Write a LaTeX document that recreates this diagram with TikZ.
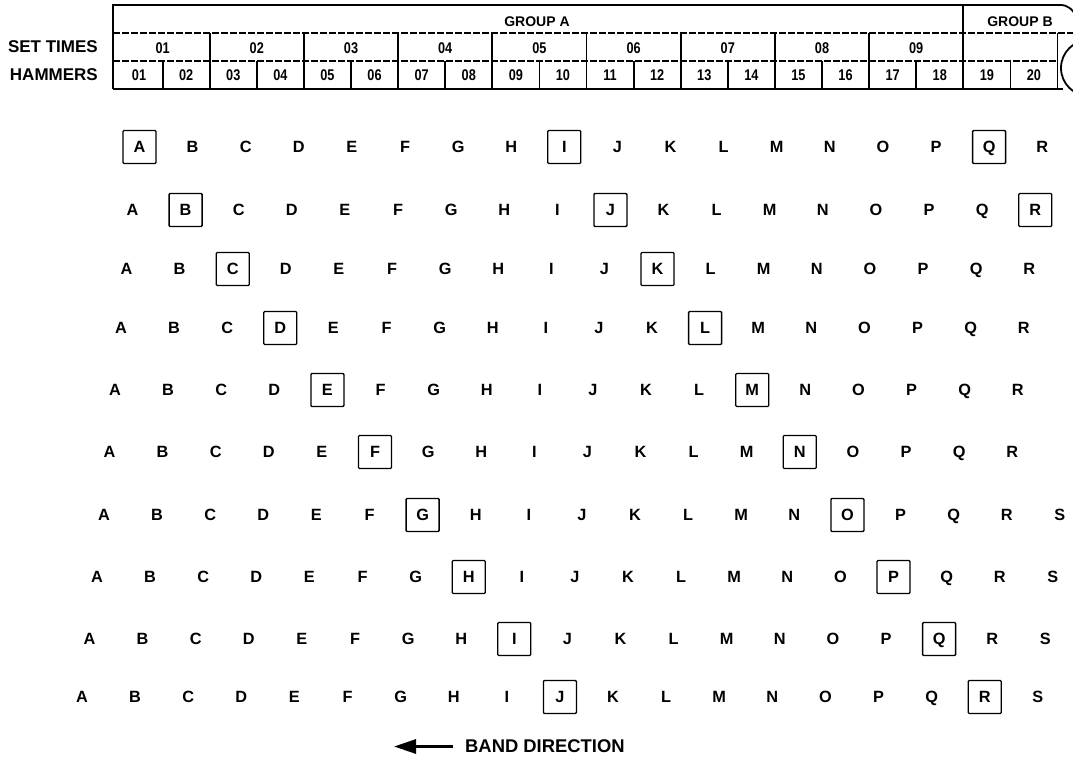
\documentclass[tikz,border=0pt]{standalone}
\usepackage{fontspec}
\setmainfont{Liberation Sans}
\newfontfamily\condfont[FakeStretch=0.82]{Liberation Sans}
\usetikzlibrary{arrows.meta}
\begin{document}
\begin{tikzpicture}[x=1pt,y=-1pt,
  lbl/.style={font=\bfseries\fontsize{17}{17}\selectfont, anchor=east, inner sep=0pt},
  grp/.style={font=\bfseries\fontsize{14}{14}\selectfont, inner sep=0pt},
  num/.style={font=\condfont\bfseries\fontsize{15.5}{15.5}\selectfont, inner sep=0pt},
  ltr/.style={font=\bfseries\fontsize{16.3}{16.3}\selectfont, text height=11.7pt, text depth=0pt, minimum width=33pt, minimum height=33pt, inner sep=0pt},
  hit/.style={ltr, draw, line width=1.3pt, rounded corners=1pt},
  frame/.style={line width=1.8pt},
  rule/.style={line width=1.3pt, dash pattern=on 7pt off 2pt},
  band/.style={font=\bfseries\fontsize{18.4}{18.4}\selectfont, anchor=west, inner xsep=12pt, inner ysep=0pt},
  bandarrow/.style={line width=3pt, -{Triangle[length=22pt,width=14pt]}}
]
\useasboundingbox (0,0) rectangle (1073,757);
\clip (0,0) rectangle (1073,757);
% ---------- table frame ----------
\draw[frame] (113,89) -- (113,5) -- (1060,5) .. controls (1068,5) and (1072,9) .. (1077,17);
\draw[frame] (113,89) -- (1063,89);
\draw[rule] (113,33) -- (1073,33);
\draw[rule] (113,61) -- (1057.5,61);
\draw[frame] (963.3,5) -- (963.3,89);
\foreach \k in {2,4,...,16} \draw[frame] ({115.5+47.1*\k},33) -- ({115.5+47.1*\k},89);
\foreach \k in {1,3,...,19} \draw[frame] ({115.5+47.1*\k},61) -- ({115.5+47.1*\k},89);
\draw[frame] (1057.5,33) -- (1057.5,89);
\draw[frame] (1089,68) circle (28);
% ---------- table texts ----------
\node[lbl] (settimes) at (98,47) {SET TIMES};
\node[lbl] (hammers) at (98,75) {HAMMERS};
\node[grp] (groupA) at (537,22) {GROUP A};
\node[grp] (groupB) at (1020,22) {GROUP B};
\foreach \j in {1,...,9}
  \node[num] (set\j) at ({115.5+47.1*(2*\j-1)},48) {0\j};
\foreach \h in {1,...,20}
  \node[num] (ham\h) at ({115.5+47.1*(\h-0.5)},75) {\ifnum\h<10 0\fi\h};
% ---------- letter rows ----------
\foreach \r/\y/\xa/\n in {0/147/139.5/17, 1/210/132.5/17, 2/269/126.5/17, 3/328/121/17,
    4/390/115/17, 5/452/109.5/17, 6/515/104/18, 7/577/97/18, 8/639/89.5/18, 9/697/82/18}{
  \foreach \j in {0,...,\n}{
    \pgfmathtruncatemacro\isbox{(\j==\r)||(\j==\r+8)||(\j==\r+16)}
    \ifnum\isbox=1 \def\sty{hit}\else\def\sty{ltr}\fi
    \node[\sty] (r\r c\j) at ({\xa+53.1*\j},\y)
      {\ifcase\j A\or B\or C\or D\or E\or F\or G\or H\or I\or J\or K\or L\or M\or N\or O\or P\or Q\or R\or S\fi};
  }
}
% ---------- band direction ----------
\node[band] (bandtext) at (453,746.5) {BAND DIRECTION};
\coordinate (bandtip) at (394,746.5);
\draw[bandarrow] (bandtext.west) -- (bandtip);
\end{tikzpicture}
\end{document}
